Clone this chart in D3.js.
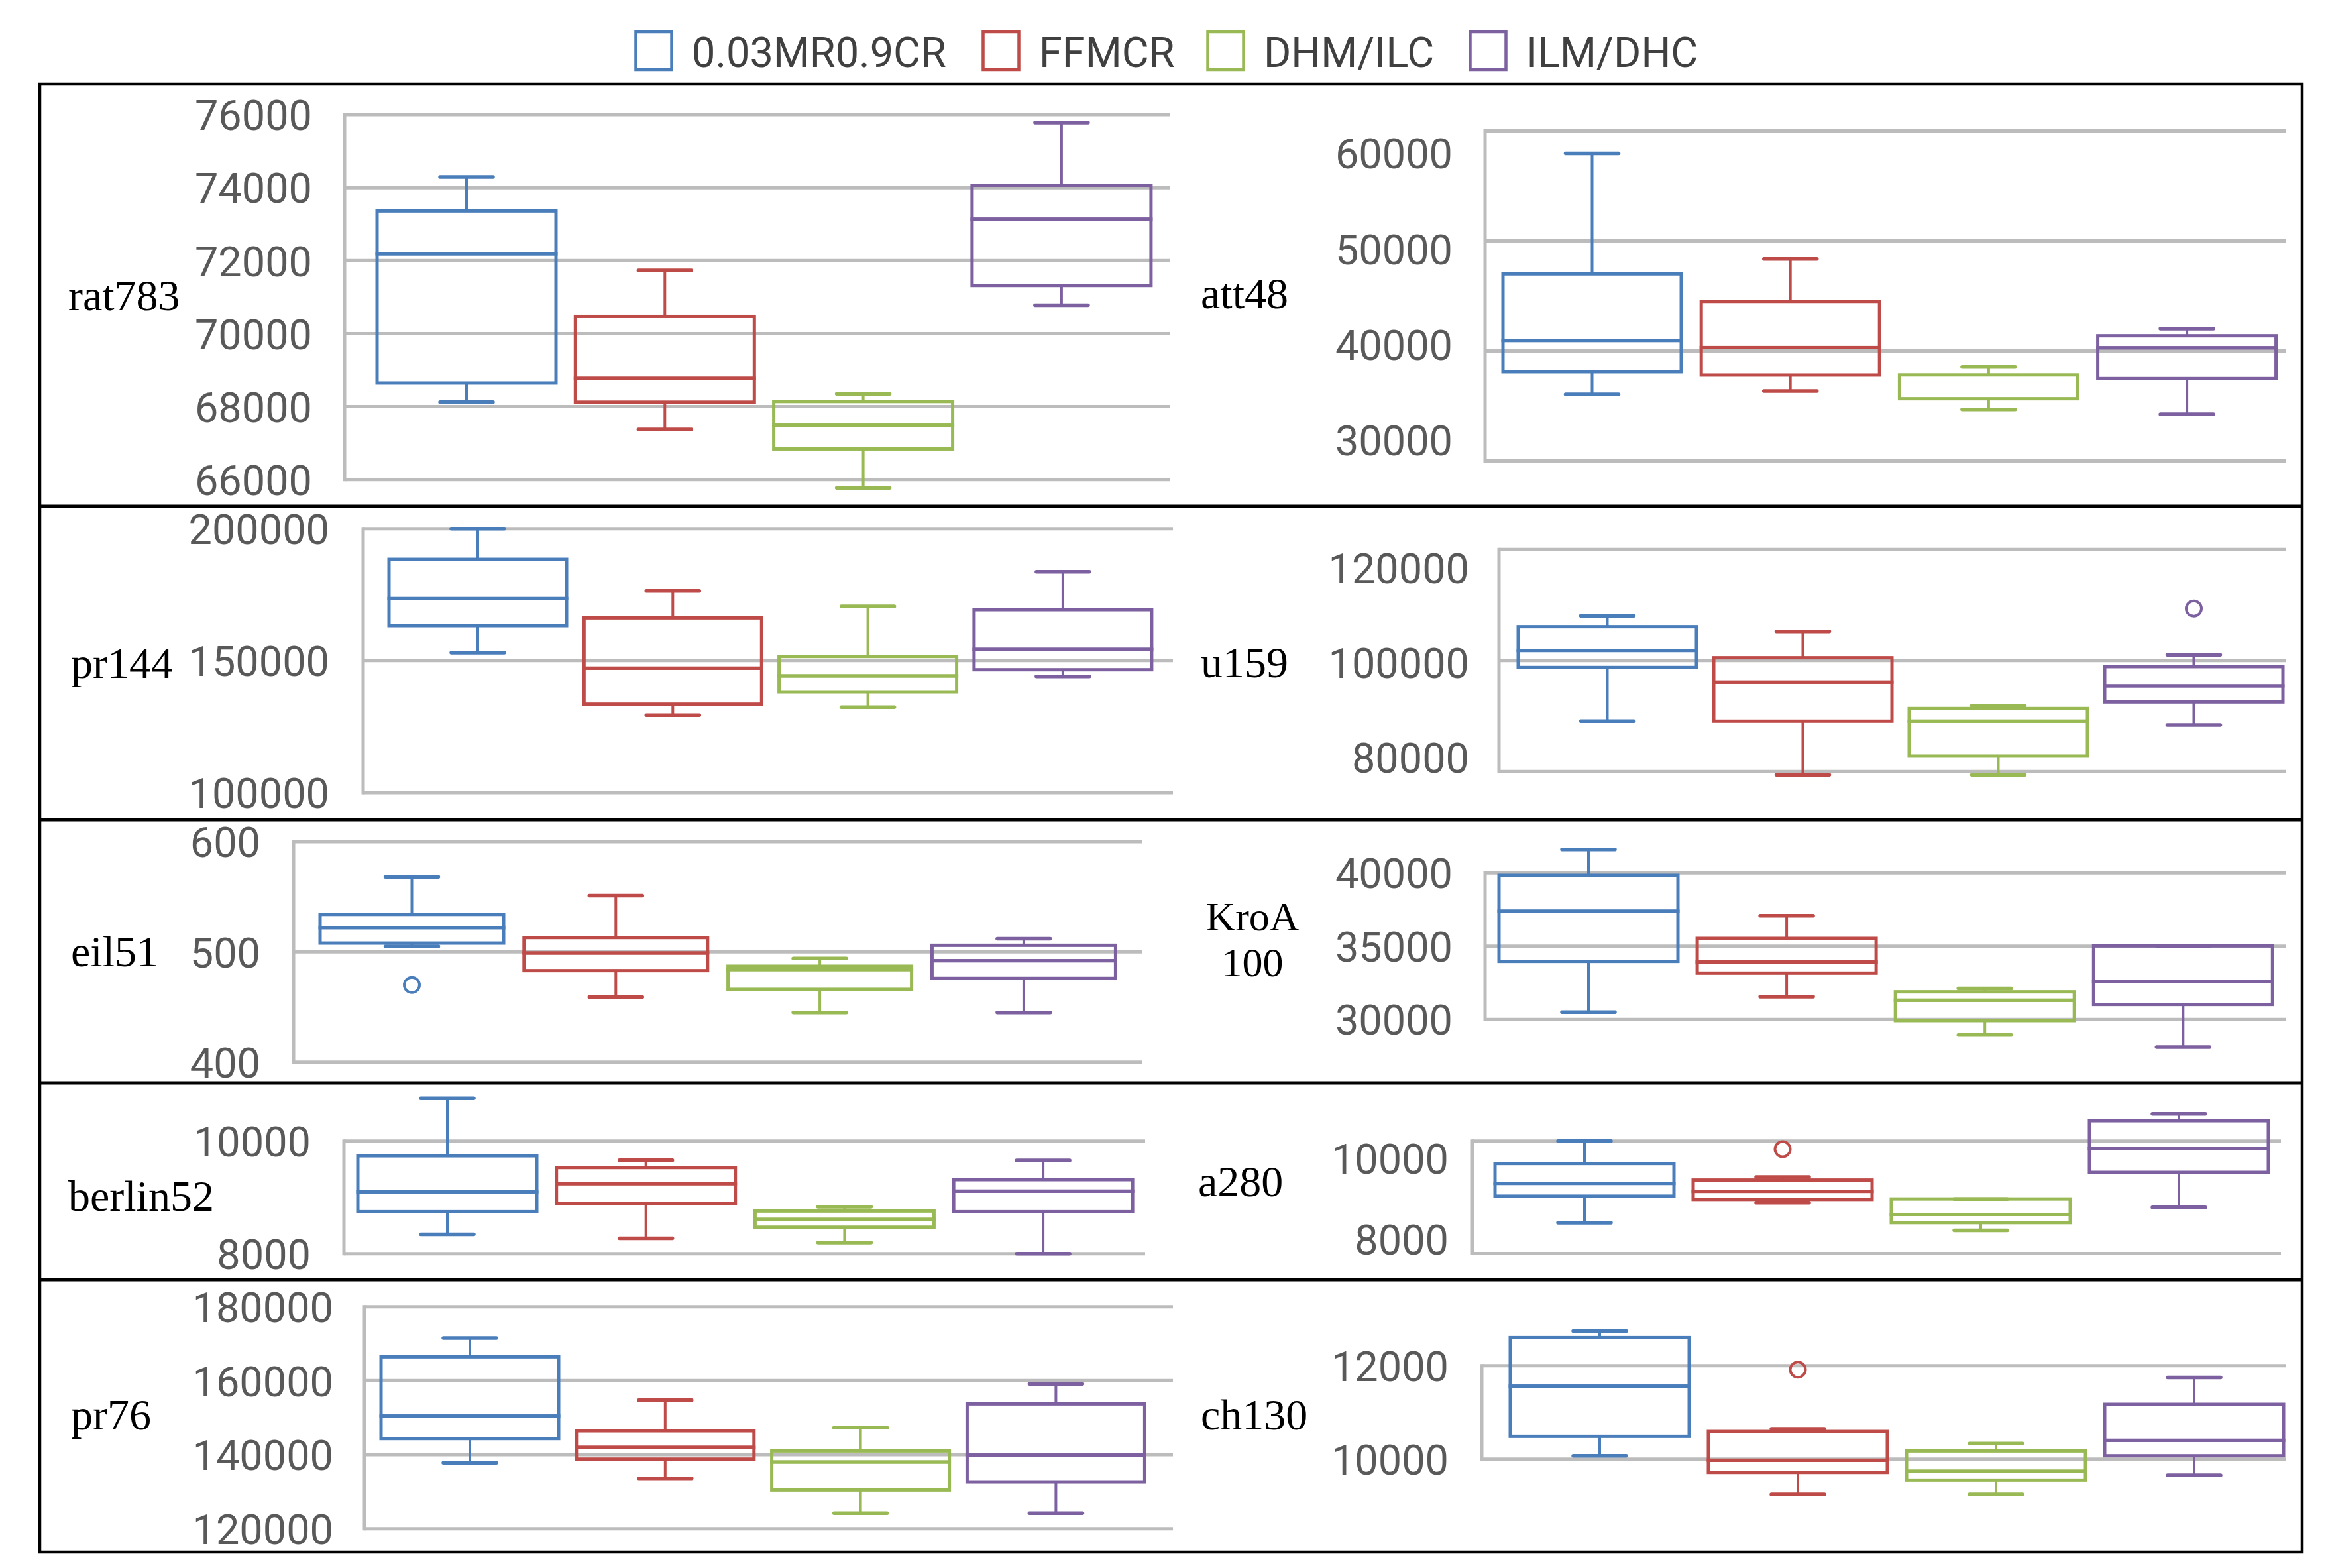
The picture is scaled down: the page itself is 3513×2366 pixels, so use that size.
<!DOCTYPE html>
<html>
<head>
<meta charset="utf-8">
<script src="https://cdn.jsdelivr.net/npm/d3@7"></script>
<style>
html, body { margin: 0; padding: 0; background: #ffffff; }
svg { display: block; }
</style>
</head>
<body>
<script>
// ---------------- DATA ----------------
const methods = ["0.03MR0.9CR", "FFMCR", "DHM/ILC", "ILM/DHC"];
const instances = ["rat783", "att48", "pr144", "u159", "eil51", "KroA100", "berlin52", "a280", "pr76", "ch130"];

// each row: [lower whisker, Q1, median, Q3, upper whisker], one row per method
const rat783   = [[68123, 68647, 72188, 73362, 74293], [67373, 68123, 68773, 70472, 71736], [65774, 66840, 67490, 68141, 68349], [70779, 71321, 73136, 74067, 75783]];
const att48    = [[36050, 38100, 40950, 47000, 57950], [36350, 37800, 40300, 44500, 48350], [34680, 35650, 37810, 37810, 38530], [34235, 37477, 40282, 41372, 42020]];
const pr144    = [[152971, 163264, 173473, 188368, 200000], [129290, 133474, 147114, 166193, 176402], [132303, 138160, 144185, 151549, 170545], [144018, 146528, 154227, 169290, 183683]];
const u159     = [[89075, 98747, 101811, 106110, 108060], [79404, 89075, 96120, 100498, 105274], [79404, 82787, 89075, 91344, 91861], [88399, 92538, 95443, 98906, 101015]];
const eil51    = [[505, 508, 522, 534, 568], [459, 483, 499, 513, 551], [445, 466, 484, 487, 494], [445, 476, 492, 506, 512]];
const KroA100  = [[30498, 33967, 37391, 39834, 41614], [31554, 33167, 33922, 35535, 37089], [28944, 29924, 31312, 31885, 32112], [28115, 31026, 32594, 35023, 35023]];
const berlin52 = [[8345, 8745, 9098, 9737, 10757], [8274, 8890, 9243, 9529, 9659], [8196, 8470, 8608, 8757, 8831], [8000, 8745, 9110, 9314, 9655]];
const a280     = [[8549, 9020, 9247, 9600, 10000], [8903, 8962, 9106, 9306, 9361], [8412, 8550, 8695, 8970, 8970], [8823, 9443, 9863, 10361, 10482]];
const pr76     = [[137791, 144358, 150448, 166448, 171522], [133613, 138806, 141970, 146448, 154746], [124179, 130448, 138030, 141015, 147284], [124179, 132657, 139881, 153732, 159105]];
const ch130    = [[10071, 10487, 11560, 12600, 12742], [9244, 9716, 9976, 10591, 10648], [9244, 9551, 9740, 10175, 10331], [9655, 10071, 10402, 11173, 11749]];

// outliers: [instance, method index, value]
const outliers = [["u159", 3, 109373], ["eil51", 0, 470], ["a280", 1, 9855], ["ch130", 1, 11915]];

// tick labels per instance
const ticksRat783   = [66000, 68000, 70000, 72000, 74000, 76000];
const ticksAtt48    = [30000, 40000, 50000, 60000];
const ticksPr144    = [100000, 150000, 200000];
const ticksU159     = [80000, 100000, 120000];
const ticksEil51    = [400, 500, 600];
const ticksKroA100  = [30000, 35000, 40000];
const ticksBerlin52 = [8000, 10000];
const ticksA280     = [8000, 10000];
const ticksPr76     = [120000, 140000, 160000, 180000];
const ticksCh130    = [10000, 12000];

const seriesData = { rat783, att48, pr144, u159, eil51, KroA100, berlin52, a280, pr76, ch130 };
const seriesTicks = { rat783: ticksRat783, att48: ticksAtt48, pr144: ticksPr144, u159: ticksU159, eil51: ticksEil51,
  KroA100: ticksKroA100, berlin52: ticksBerlin52, a280: ticksA280, pr76: ticksPr76, ch130: ticksCh130 };

// ---------------- LAYOUT / STYLE ----------------
const colors = ["#4A7EBB", "#BE4B48", "#98B954", "#7D60A0"];
const layout = {
  rat783:   { ax: 520,  gx1: 1765, yTop: 173.1,  yBot: 723.7,  bx0: 569,  step: 299.3, bw: 270, lx: 471,  name: [[103, 468, "rat783"]] },
  att48:    { ax: 2241, gx1: 3450, yTop: 197.5,  yBot: 695.4,  bx0: 2268, step: 299.2, bw: 269, lx: 2192, labelRange: [664, 231], name: [[1812, 465, "att48"]] },
  pr144:    { ax: 548,  gx1: 1770, yTop: 797.7,  yBot: 1196,   bx0: 587,  step: 294.3, bw: 268, lx: 497,  name: [[107, 1023, "pr144"]] },
  u159:     { ax: 2262, gx1: 3450, yTop: 829.3,  yBot: 1164.3, bx0: 2291, step: 295,   bw: 269, lx: 2217, labelRange: [1143, 857], name: [[1812, 1022, "u159"]] },
  eil51:    { ax: 443,  gx1: 1723, yTop: 1270,   yBot: 1602.7, bx0: 483,  step: 307.8, bw: 277, lx: 393,  name: [[107, 1458, "eil51"]] },
  KroA100:  { ax: 2241, gx1: 3450, yTop: 1317.3, yBot: 1538.3, bx0: 2262, step: 299.1, bw: 270, lx: 2192, name: [[1890, 1404, "KroA"], [1890, 1473, "100"]], nameAnchor: "middle", nameSize: 62 },
  berlin52: { ax: 519,  gx1: 1728, yTop: 1721.7, yBot: 1891.7, bx0: 540,  step: 299.7, bw: 270, lx: 469,  name: [[103, 1827, "berlin52"]] },
  a280:     { ax: 2222, gx1: 3442, yTop: 1721.7, yBot: 1891.5, bx0: 2256, step: 299,   bw: 270, lx: 2186, labelRange: [1870, 1748], name: [[1808, 1805, "a280"]] },
  pr76:     { ax: 550,  gx1: 1770, yTop: 1971.7, yBot: 2306.7, bx0: 575,  step: 294.8, bw: 268, lx: 503,  name: [[107, 2157, "pr76"]] },
  ch130:    { ax: 2236, gx1: 3450, yTop: 2060.7, yBot: 2201.7, bx0: 2279, step: 299,   bw: 270, lx: 2186, name: [[1812, 2157, "ch130"]] }
};

const W = 3513, H = 2366;
const svg = d3.select("body").append("svg").attr("width", W).attr("height", H);
svg.append("rect").attr("width", W).attr("height", H).attr("fill", "#ffffff");

// ---------------- LEGEND ----------------
const legendX = [957, 1481, 1820, 2216];
const legend = svg.append("g");
methods.forEach((m, i) => {
  legend.append("rect").attr("x", legendX[i] + 2.5).attr("y", 48).attr("width", 54).attr("height", 57)
    .attr("fill", "none").attr("stroke", colors[i]).attr("stroke-width", 4.5);
  legend.append("text").attr("x", legendX[i] + 87).attr("y", 101).text(m)
    .attr("font-family", "Roboto, 'Open Sans', sans-serif").attr("font-size", 63).attr("fill", "#404040");
});

// ---------------- PANELS ----------------
instances.forEach(inst => {
  const L = layout[inst];
  const data = seriesData[inst];
  const ticks = seriesTicks[inst];
  const g = svg.append("g").attr("class", "panel-" + inst);

  const y = d3.scaleLinear().domain(d3.extent(ticks)).range([L.yBot, L.yTop]);
  const x = d3.scaleBand().domain(methods)
    .range([L.bx0, L.bx0 + 3 * L.step + L.bw])
    .paddingInner(1 - L.bw / L.step).paddingOuter(0);
  const ly = L.labelRange ? d3.scaleLinear().domain(y.domain()).range(L.labelRange) : y;

  // gridlines
  g.selectAll("line.grid").data(ticks).join("line").attr("class", "grid")
    .attr("x1", L.ax).attr("x2", L.gx1).attr("y1", d => y(d)).attr("y2", d => y(d))
    .attr("stroke", "#bcbcbc").attr("stroke-width", 5);
  // vertical axis line
  g.append("line").attr("x1", L.ax).attr("x2", L.ax).attr("y1", y.range()[1] - 2.5).attr("y2", y.range()[0] + 2.5)
    .attr("stroke", "#bcbcbc").attr("stroke-width", 5);

  // tick labels
  const axis = d3.axisLeft(ly).tickValues(ticks).tickSize(0).tickPadding(0).tickFormat(d3.format("d"));
  const ag = g.append("g").attr("transform", `translate(${L.lx},0)`).call(axis);
  ag.select(".domain").remove();
  ag.selectAll("text").attr("font-family", "Roboto, 'Open Sans', sans-serif").attr("font-size", 63)
    .attr("fill", "#595959").attr("dy", "0.36em");

  // instance name (one text element, one tspan per line)
  const nt = g.append("text")
    .attr("text-anchor", L.nameAnchor || "start")
    .attr("font-family", "'Liberation Serif', 'Times New Roman', serif").attr("font-size", L.nameSize || 66).attr("fill", "#000");
  L.name.forEach(([nx, ny, t]) => {
    nt.append("tspan").attr("x", nx).attr("y", ny).text(t);
  });

  // boxes
  const capW = 80;
  methods.forEach((m, i) => {
    const [wl, q1, med, q3, wh] = data[i];
    const cx = x(m) + x.bandwidth() / 2;
    const c = colors[i];
    const bg = g.append("g");
    // whiskers
    bg.append("line").attr("x1", cx).attr("x2", cx).attr("y1", y(q3)).attr("y2", y(wh)).attr("stroke", c).attr("stroke-width", 4);
    bg.append("line").attr("x1", cx).attr("x2", cx).attr("y1", y(q1)).attr("y2", y(wl)).attr("stroke", c).attr("stroke-width", 4);
    // caps
    [wl, wh].forEach(v => {
      bg.append("line").attr("x1", cx - capW / 2).attr("x2", cx + capW / 2).attr("y1", y(v)).attr("y2", y(v))
        .attr("stroke", c).attr("stroke-width", 5.5).attr("stroke-linecap", "round");
    });
    // box (two stacked halves)
    bg.append("rect").attr("x", x(m)).attr("width", x.bandwidth()).attr("y", y(q3)).attr("height", y(med) - y(q3))
      .attr("fill", "none").attr("stroke", c).attr("stroke-width", 5);
    bg.append("rect").attr("x", x(m)).attr("width", x.bandwidth()).attr("y", y(med)).attr("height", y(q1) - y(med))
      .attr("fill", "none").attr("stroke", c).attr("stroke-width", 5);
  });

  // outliers
  outliers.filter(o => o[0] === inst).forEach(([_, mi, v]) => {
    const cx = x(methods[mi]) + x.bandwidth() / 2;
    g.append("circle").attr("cx", cx).attr("cy", y(v)).attr("r", 11.5)
      .attr("fill", "none").attr("stroke", colors[mi]).attr("stroke-width", 4);
  });
});

// ---------------- FRAME ----------------
const frame = { x0: 60, x1: 3474, y0: 127, y1: 2342, seps: [764, 1237, 1634, 1931] };
svg.append("rect").attr("x", frame.x0).attr("y", frame.y0).attr("width", frame.x1 - frame.x0).attr("height", frame.y1 - frame.y0)
  .attr("fill", "none").attr("stroke", "#000").attr("stroke-width", 4.5);
svg.selectAll("line.sep").data(frame.seps).join("line").attr("class", "sep")
  .attr("x1", frame.x0).attr("x2", frame.x1).attr("y1", d => d).attr("y2", d => d)
  .attr("stroke", "#000").attr("stroke-width", 5);
</script>
</body>
</html>
